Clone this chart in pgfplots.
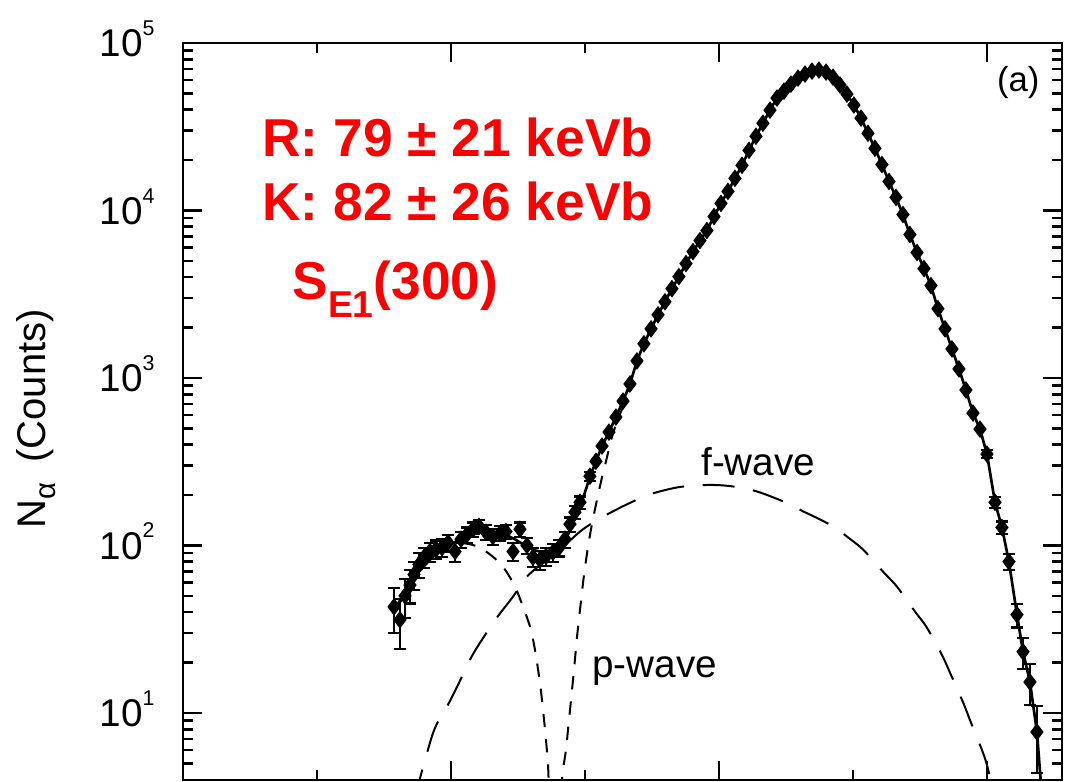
\documentclass[border=0pt]{standalone}
\usepackage{fontspec}
\setmainfont{Liberation Sans}
\usepackage{pgfplots}
\pgfplotsset{compat=1.18}
\usepackage{pgfplotstable}

% decade tick labels set in the text font
\newcommand{\dec}[1]{10\raisebox{8pt}{\fontsize{8}{8}\selectfont #1}}

% measured alpha spectrum, low-count points (with error bars)
\pgfplotstableread{
x y e
157.5 43 13
161.9 36 12
165.7 50 13
169.4 58 13
172.4 67 13
176.1 77 13
179.9 85 12
184.3 92 12
188.8 95 12
193.3 97 12
197.8 104 12
203.0 92 12
207.5 109 12
211.9 116 12
216.4 125 12
220.9 130 12
226.1 120 12
231.3 113 12
236.6 118 12
241.0 121 12
246.3 92 11
251.5 125 12
256.7 100 11
261.2 85 11
266.4 82 11
270.9 86 11
276.1 91 11
280.6 97 11
285.1 109 12
288.8 134 13
292.5 158 14
296.3 181 15
303.7 259 17
600.0 351 19
606.0 181 14
611.2 128 11
616.4 80 9
622.4 38.6 6.2
626.9 23.2 4.8
632.1 15.3 4.2
637.3 7.7 3.3
}\dataerr

% measured alpha spectrum, high-count points
\pgfplotstableread{
x y
308.2 318
312.7 392
317.9 475
323.1 584
328.4 728
333.6 921
338.8 1265
344.0 1600
349.3 1965
354.5 2383
359.7 2851
364.9 3412
370.1 4028
375.4 4818
380.6 5680
385.8 6610
391.0 7590
396.3 9200
401.5 11020
406.7 13000
411.9 15560
417.2 18600
422.4 22860
427.6 27730
432.8 33190
438.1 39720
443.3 46900
448.5 51600
453.7 56800
459.0 61700
464.2 65200
469.4 67900
474.6 68900
479.9 67000
485.1 62500
490.3 56100
495.5 49500
500.7 42600
506.0 35600
511.2 28900
516.4 23500
521.6 18800
526.9 14900
532.1 11970
537.3 9460
542.5 7180
547.8 5610
553.0 4500
558.2 3560
563.4 2590
568.7 1965
573.9 1490
579.1 1132
584.3 848
589.6 617
594.8 495
}\datahigh

% total R-matrix fit
\pgfplotstableread{
x y
156.7 39.2
165.7 51.6
175.4 68.8
185.8 84.7
197.0 98.6
206.7 108.7
215.7 116.4
223.9 119.7
232.8 119.7
240.3 116.4
247.8 108.7
255.2 100
262.7 93.3
270.1 90.8
277.6 93.3
283.6 101.4
288.8 123
293.3 149
297.8 183
303.7 257
308.2 318
312.7 392
317.9 475
323.1 584
328.4 728
333.6 921
338.8 1265
344.0 1600
349.3 1965
354.5 2383
359.7 2851
364.9 3412
370.1 4028
375.4 4818
380.6 5680
385.8 6610
391.0 7590
396.3 9200
401.5 11020
406.7 13000
411.9 15560
417.2 18600
422.4 22860
427.6 27730
432.8 33190
438.1 39720
443.3 46900
448.5 51600
453.7 56800
459.0 61700
464.2 65200
469.4 67900
474.6 68900
479.9 67000
485.1 62500
490.3 56100
495.5 49500
500.7 42600
506.0 35600
511.2 28900
516.4 23500
521.6 18800
526.9 14900
532.1 11970
537.3 9460
542.5 7180
547.8 5610
553.0 4500
558.2 3560
563.4 2590
568.7 1965
573.9 1490
579.1 1132
584.3 848
589.6 617
594.8 495
600.0 351
606.0 181
611.2 128
616.4 80
622.4 38.6
626.9 23.2
632.1 15.3
637.3 7.7
641.0 3.2
}\fit

% f-wave component
\pgfplotstableread{
x y
172.4 3.0
186.6 7.59
197.0 10.9
204.5 14.3
214.2 20.8
221.6 26.2
234.3 37.1
246.3 49.5
256.7 65.2
271.6 82.4
281.3 94.6
296.3 121
306.0 137
316.4 153
331.3 176
348.5 202
368.7 222
385.8 229
400.7 229
415.7 222
428.4 210
440.3 194
453.0 176
462.7 160
475.4 143
486.6 128
495.5 113
507.5 94.6
522.4 69.8
532.8 56.8
546.3 40.3
555.2 32.3
566.4 22.2
572.4 17.4
582.1 11.6
587.3 9.08
596.3 6.0
600.0 4.89
603.7 3.7
}\fwave

% p-wave component, below the interference zero
\pgfplotstableread{
x y
156.7 40.3
165.7 53.1
175.4 69.8
185.8 85.9
197.0 97.2
206.7 103
215.7 101
223.9 94.6
232.8 83.6
240.3 71.8
247.8 56.8
253.7 43.1
259.0 32.7
262.7 23.8
266.4 15.1
268.7 10.4
270.9 6.9
272.4 4.9
273.1 3.46
}\pwavelow

% p-wave component, above the interference zero
\pgfplotstableread{
x y
282.1 3.46
283.6 4.56
285.8 6.0
287.3 7.9
289.6 12.0
291.8 18.1
294.0 28.1
296.3 41.4
299.3 67.0
302.2 97.2
305.2 134
309.0 188
312.7 255
316.4 336
320.1 444
324.6 568
329.9 718
335.1 921
}\pwavehigh

\begin{document}
\begin{tikzpicture}
\begin{axis}[
  scale only axis,
  width=329.625pt, height=276.375pt,
  xmin=0, xmax=656,
  ymode=log, ymin=3.98, ymax=1e5,
  axis line style={line width=1.1pt},
  every tick/.style={black, line width=1pt},
  tick align=inside,
  major tick length=7pt,
  minor tick length=3.6pt,
  xtick={200,400,600},
  minor xtick={100,300,500},
  xticklabels={},
  ytick={10,100,1000,10000,100000},
  minor ytick={5,6,7,8,9,20,30,40,50,60,70,80,90,200,300,400,500,600,700,800,900,2000,3000,4000,5000,6000,7000,8000,9000,20000,30000,40000,50000,60000,70000,80000,90000},
  yticklabels={\dec{1},\dec{2},\dec{3},\dec{4},\dec{5}},
  yticklabel style={font=\fontsize{14.5}{14.5}\selectfont, anchor=base east, inner sep=0pt, xshift=-10.5pt, yshift=-5.2pt},
  ylabel={N\raisebox{-4pt}{\fontsize{11}{11}\selectfont α}\hspace{0.5em}(Counts)},
  ylabel style={at={(axis description cs:-0.1672,0.49)}, anchor=center, font=\fontsize{15}{15}\selectfont},
]
\addplot[black, line width=0.75pt, dash pattern=on 12pt off 7pt, smooth] table[x=x, y=y] {\fwave};
\addplot[black, line width=0.75pt, dash pattern=on 5pt off 4.5pt, smooth] table[x=x, y=y] {\pwavelow};
\addplot[black, line width=0.75pt, dash pattern=on 5pt off 4.5pt, smooth] table[x=x, y=y] {\pwavehigh};
\addplot[black, line width=1pt] table[x=x, y=y] {\fit};
\addplot[black, only marks, mark=diamond*, mark size=3pt] table[x=x, y=y] {\datahigh};
\addplot[black, only marks, mark=diamond*, mark size=3pt,
  error bars/.cd, y dir=both, y explicit,
  error bar style={line width=0.8pt},
  error mark options={rotate=90, black, mark size=2.3pt, line width=0.8pt}]
  table[x=x, y=y, y error=e] {\dataerr};

\node[anchor=base west, text=red, font=\fontsize{20}{20}\selectfont\bfseries] at (rel axis cs:0.0796,0.8453) {R: 79 ± 21 keVb};
\node[anchor=base west, text=red, font=\fontsize{20}{20}\selectfont\bfseries] at (rel axis cs:0.0796,0.7598) {K: 82 ± 26 keVb};
\node[anchor=base west, text=red, font=\fontsize{20}{20}\selectfont\bfseries] at (rel axis cs:0.1138,0.6513) {S\raisebox{-6.5pt}{\fontsize{14}{14}\selectfont E1}(300)};
\node[anchor=base east, font=\fontsize{13}{13}\selectfont] at (rel axis cs:0.985,0.9335) {(a)};
\node[anchor=base west, font=\fontsize{14.5}{14.5}\selectfont] at (rel axis cs:0.579,0.4138) {f-wave};
\node[anchor=base west, font=\fontsize{14.5}{14.5}\selectfont] at (rel axis cs:0.455,0.1384) {p-wave};
\coordinate (frameSW) at (rel axis cs:0,0);
\end{axis}
\pgfresetboundingbox
\path[use as bounding box] ([shift={(-68.625pt,-0.75pt)}]frameSW) rectangle ++(400.125pt,293.25pt);
\end{tikzpicture}
\end{document}
